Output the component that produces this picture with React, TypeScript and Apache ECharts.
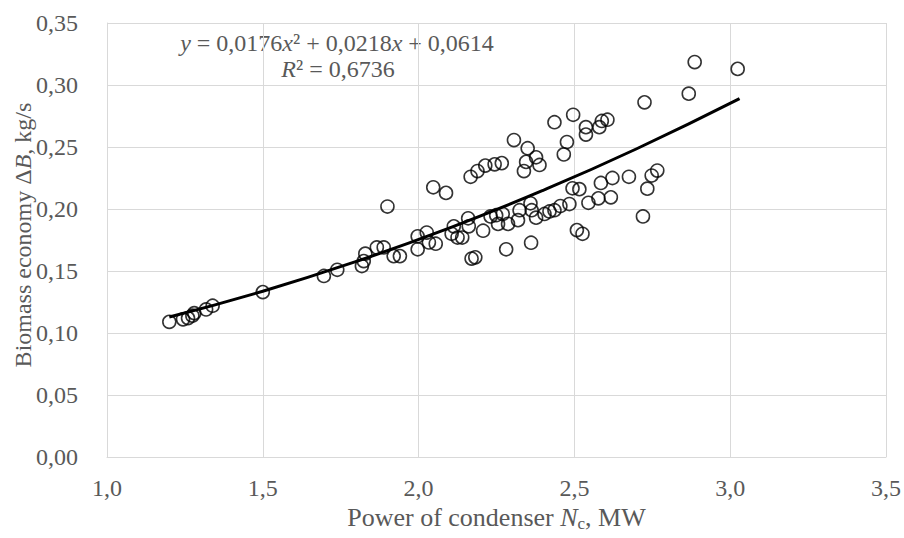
import React, { useEffect, useRef } from "react";
import * as echarts from "echarts";

// Measured points: power of condenser Nc (MW) and biomass economy ΔB (kg/s)
const xValues: number[] = [
  1.2, 1.244, 1.26, 1.274, 1.28, 1.318, 1.339, 1.5, 1.696, 1.739,
  1.818, 1.824, 1.829, 1.866, 1.888, 1.9, 1.92, 1.94,
  1.997, 1.997, 2.026, 2.033, 2.055, 2.047, 2.088,
  2.106, 2.113, 2.125, 2.14, 2.159, 2.161, 2.167, 2.17, 2.182, 2.189,
  2.207, 2.214, 2.231, 2.244, 2.249, 2.255, 2.267, 2.27, 2.281, 2.287,
  2.306, 2.319, 2.324, 2.338, 2.345, 2.35, 2.359, 2.361, 2.363, 2.377,
  2.377, 2.388, 2.404, 2.42, 2.436, 2.436, 2.455, 2.466, 2.476, 2.484,
  2.494, 2.496, 2.508, 2.516, 2.526, 2.537, 2.537, 2.545, 2.577, 2.58,
  2.585, 2.588, 2.606, 2.617, 2.622, 2.675, 2.72, 2.725, 2.734, 2.748,
  2.766, 2.867, 2.886, 3.024,
];
const yValues: number[] = [
  0.109, 0.111, 0.112, 0.114, 0.116, 0.119, 0.122, 0.133, 0.146, 0.151,
  0.154, 0.158, 0.164, 0.169, 0.169, 0.202, 0.162, 0.162,
  0.1675, 0.178, 0.181, 0.173, 0.172, 0.2175, 0.213,
  0.18, 0.186, 0.177, 0.177, 0.1925, 0.186, 0.226, 0.16, 0.161, 0.2306,
  0.1825, 0.235, 0.194, 0.236, 0.195, 0.188, 0.237, 0.196, 0.1675, 0.188,
  0.2556, 0.191, 0.199, 0.2306, 0.238, 0.249, 0.2046, 0.1728, 0.199, 0.2417,
  0.193, 0.2355, 0.196, 0.198, 0.199, 0.27, 0.2024, 0.244, 0.254, 0.204,
  0.2167, 0.276, 0.183, 0.216, 0.18, 0.266, 0.26, 0.205, 0.2086, 0.266,
  0.221, 0.271, 0.272, 0.2094, 0.225, 0.226, 0.194, 0.286, 0.2164, 0.227,
  0.231, 0.293, 0.3185, 0.313,
];

// Polynomial trend line
const trendX: number[] = [1.2, 1.5, 1.8, 2.1, 2.4, 2.7, 3.03];
const trendY: number[] = [0.1129, 0.1337, 0.1577, 0.1848, 0.2151, 0.2486, 0.289];

const xTicks: string[] = ["1,0", "1,5", "2,0", "2,5", "3,0", "3,5"];
const yTicks: string[] = ["0,00", "0,05", "0,10", "0,15", "0,20", "0,25", "0,30", "0,35"];

const FONT = "'Liberation Serif', 'Times New Roman', serif";
const TXT = "#595959";
const GRID = "#d9d9d9";

export default function App() {
  const ref = useRef<HTMLDivElement>(null);
  useEffect(() => {
    if (!ref.current) return;
    const chart = echarts.init(ref.current, undefined, { renderer: "svg" });
    const scatter = xValues.map((x, i) => [x, yValues[i]]);
    const trend = trendX.map((x, i) => [x, trendY[i]]);
    const eqRich = {
      n: { fontFamily: FONT, fontSize: 24, fill: TXT },
      i: { fontFamily: FONT, fontSize: 24, fill: TXT, fontStyle: "italic" },
    };
    chart.setOption({
      animation: false,
      backgroundColor: "#ffffff",
      grid: { left: 107, right: 14, top: 23, bottom: 81, containLabel: false },
      xAxis: {
        type: "value",
        min: 1,
        max: 3.5,
        interval: 0.5,
        axisLine: { show: true, lineStyle: { color: GRID, width: 1 } },
        axisTick: { show: false },
        splitLine: { show: true, lineStyle: { color: GRID, width: 1 } },
        axisLabel: {
          margin: 19,
          color: TXT,
          fontFamily: FONT,
          fontSize: 24,
          formatter: (v: number) => xTicks[Math.round((v - 1) / 0.5)] ?? "",
        },
        name: "{n|Power of condenser }{i|N}{s|c}{n|, MW}",
        nameLocation: "middle",
        nameGap: 39,
        nameTextStyle: {
          rich: {
            n: { fontFamily: FONT, fontSize: 26, color: TXT },
            i: { fontFamily: FONT, fontSize: 26, color: TXT, fontStyle: "italic" },
            s: { fontFamily: FONT, fontSize: 17, color: TXT, padding: [12, 0, 0, 0] },
          },
        },
      },
      yAxis: {
        type: "value",
        min: 0,
        max: 0.35,
        interval: 0.05,
        axisLine: { show: true, lineStyle: { color: GRID, width: 1 } },
        axisTick: { show: false },
        splitLine: { show: true, lineStyle: { color: GRID, width: 1 } },
        axisLabel: {
          margin: 29,
          color: TXT,
          fontFamily: FONT,
          fontSize: 24,
          formatter: (v: number) => yTicks[Math.round(v / 0.05)] ?? "",
        },
      },
      graphic: [
        {
          type: "text",
          x: 23,
          y: 235,
          rotation: Math.PI / 2,
          style: {
            text: "{n|Biomass economy Δ}{i|B}{n|, kg/s}",
            align: "center",
            verticalAlign: "middle",
            rich: {
              n: { fontFamily: FONT, fontSize: 24, fill: TXT },
              i: { fontFamily: FONT, fontSize: 24, fill: TXT, fontStyle: "italic" },
            },
          },
        },
        {
          type: "text",
          x: 337,
          y: 43,
          style: {
            text: "{i|y}{n| = 0,0176}{i|x}{n|² + 0,0218}{i|x}{n| + 0,0614}",
            align: "center",
            verticalAlign: "middle",
            rich: eqRich,
          },
        },
        {
          type: "text",
          x: 338,
          y: 69,
          style: {
            text: "{i|R}{n|² = 0,6736}",
            align: "center",
            verticalAlign: "middle",
            rich: eqRich,
          },
        },
      ],
      series: [
        {
          type: "line",
          data: trend,
          smooth: true,
          showSymbol: false,
          symbol: "none",
          lineStyle: { color: "#000", width: 3 },
          z: 3,
        },
        {
          type: "scatter",
          data: scatter,
          symbol: "circle",
          symbolSize: 13,
          itemStyle: { color: "rgba(0,0,0,0)", borderColor: "#000", borderWidth: 1.6 },
          z: 4,
        },
      ],
    });
    return () => chart.dispose();
  }, []);
  return (
    <div
      ref={ref}
      style={{ position: "fixed", left: 0, top: 0, width: 904, height: 538 }}
    />
  );
}
